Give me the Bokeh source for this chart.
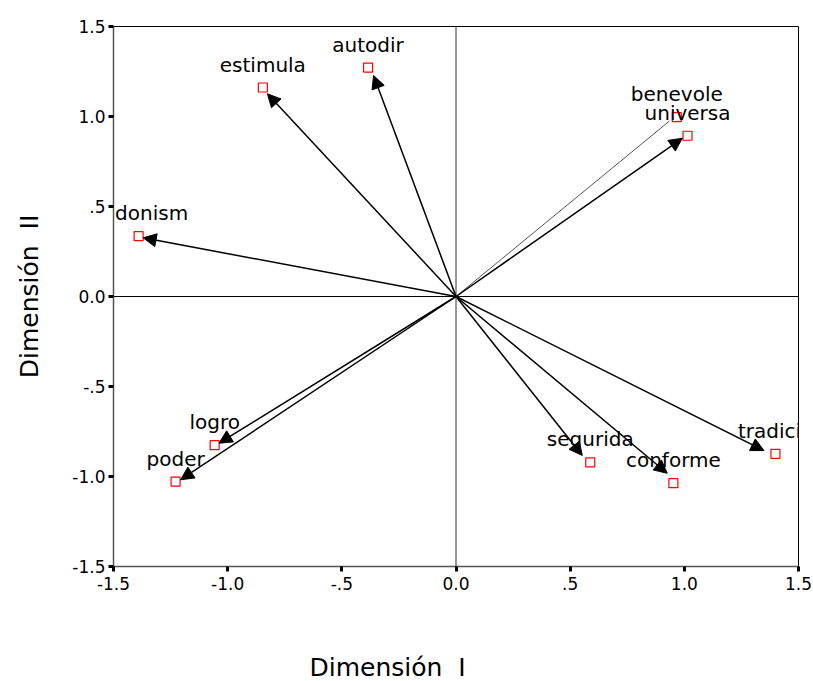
from bokeh.plotting import figure
from bokeh.models import (Range1d, Span, Arrow, NormalHead, ColumnDataSource,
                          Title, FixedTicker)
from bokeh.core.properties import value
from bokeh.embed import file_html
from bokeh.resources import INLINE

# ---- data ----
labels = ["estimula", "autodir", "benevole", "universa", "donism",
          "logro", "poder", "segurida", "conforme", "tradici"]
dim1 = [-0.846, -0.385, 0.967, 1.014, -1.390, -1.057, -1.228, 0.588, 0.952, 1.399]
dim2 = [1.161, 1.272, 0.996, 0.893, 0.335, -0.826, -1.028, -0.922, -1.037, -0.874]
# arrow tips (slightly short of the points)
tip1 = [-0.826, -0.361, 0.935, 0.991, -1.370, -1.038, -1.206, 0.553, 0.925, 1.349]
tip2 = [1.126, 1.228, 0.975, 0.879, 0.326, -0.815, -1.018, -0.883, -0.982, -0.856]
tick_values = [-1.5, -1.0, -0.5, 0.0, 0.5, 1.0, 1.5]
tick_labels = ["-1.5", "-1.0", "-.5", "0.0", ".5", "1.0", "1.5"]

FONT = "DejaVu Sans"

p = figure(width=813, height=681, output_backend="svg", toolbar_location=None,
           x_range=Range1d(-1.5, 1.5), y_range=Range1d(-1.5, 1.5),
           min_border_left=113, min_border_right=15, min_border_top=26,
           min_border_bottom=115)
p.background_fill_color = "white"
p.border_fill_color = "white"
p.grid.visible = False
p.outline_line_color = "black"
p.outline_line_width = 1

for ax in (p.xaxis[0], p.yaxis[0]):
    ax.ticker = FixedTicker(ticks=tick_values)
    ax.major_label_overrides = {v: t for v, t in zip(tick_values, tick_labels)}
    ax.major_label_text_font = FONT
    ax.major_label_text_font_size = "17px"
    ax.major_label_text_color = "black"
    ax.major_tick_in = 0
    ax.major_tick_out = 5
    ax.major_tick_line_width = 3
    ax.major_tick_line_color = "black"
    ax.minor_tick_line_color = None
    ax.axis_line_color = "#555555"
    ax.axis_line_width = 1.5

p.xaxis.major_label_standoff = 5
p.yaxis.major_label_standoff = 3
p.yaxis.axis_label = "Dimensión\u00a0\u00a0II"
p.yaxis.axis_label_text_font = FONT
p.yaxis.axis_label_text_font_size = "25px"
p.yaxis.axis_label_text_font_style = "normal"
p.yaxis.axis_label_text_color = "black"
p.yaxis.axis_label_standoff = 25

# x axis title (off-centre, low down, as in the reference)
p.add_layout(Title(text="\nDimensión\u00a0\u00a0I", align="left", offset=196,
                   standoff=0, vertical_align="bottom", text_line_height=2.0,
                   text_font=FONT, text_font_size="25px",
                   text_font_style="normal", text_color="black"), "below")

# zero lines
p.add_layout(Span(location=0, dimension="width", line_color="black", line_width=1))
p.add_layout(Span(location=0, dimension="height", line_color="#333333", line_width=1))

# arrows (benevole drawn as a plain thin line)
idx_arrow = [i for i, l in enumerate(labels) if l != "benevole"]
idx_line = [i for i, l in enumerate(labels) if l == "benevole"]
arrow_src = ColumnDataSource(dict(
    xs=[0.0] * len(idx_arrow), ys=[0.0] * len(idx_arrow),
    xe=[tip1[i] for i in idx_arrow], ye=[tip2[i] for i in idx_arrow]))
p.add_layout(Arrow(end=NormalHead(size=13, fill_color="black", line_color="black"),
                   x_start="xs", y_start="ys", x_end="xe", y_end="ye",
                   source=arrow_src, line_color="black", line_width=1.5))
p.segment(x0=[0.0] * len(idx_line), y0=[0.0] * len(idx_line),
          x1=[tip1[i] for i in idx_line], y1=[tip2[i] for i in idx_line],
          line_color="#555555", line_width=1)

src = ColumnDataSource(dict(x=dim1, y=dim2, label=labels,
                            dx=[13 if l == "donism" else (-6 if l == "tradici" else 0)
                                for l in labels]))
p.scatter(x="x", y="y", source=src, marker="square", size=9,
          line_color="red", fill_color="white", line_width=1.2)
p.text(x="x", y="y", text="label", source=src, x_offset="dx", y_offset=-23,
       text_align="center", text_baseline="alphabetic",
       text_font=value(FONT), text_font_size="20px", text_color="black")

open("out.html", "w").write(file_html(p, INLINE))
